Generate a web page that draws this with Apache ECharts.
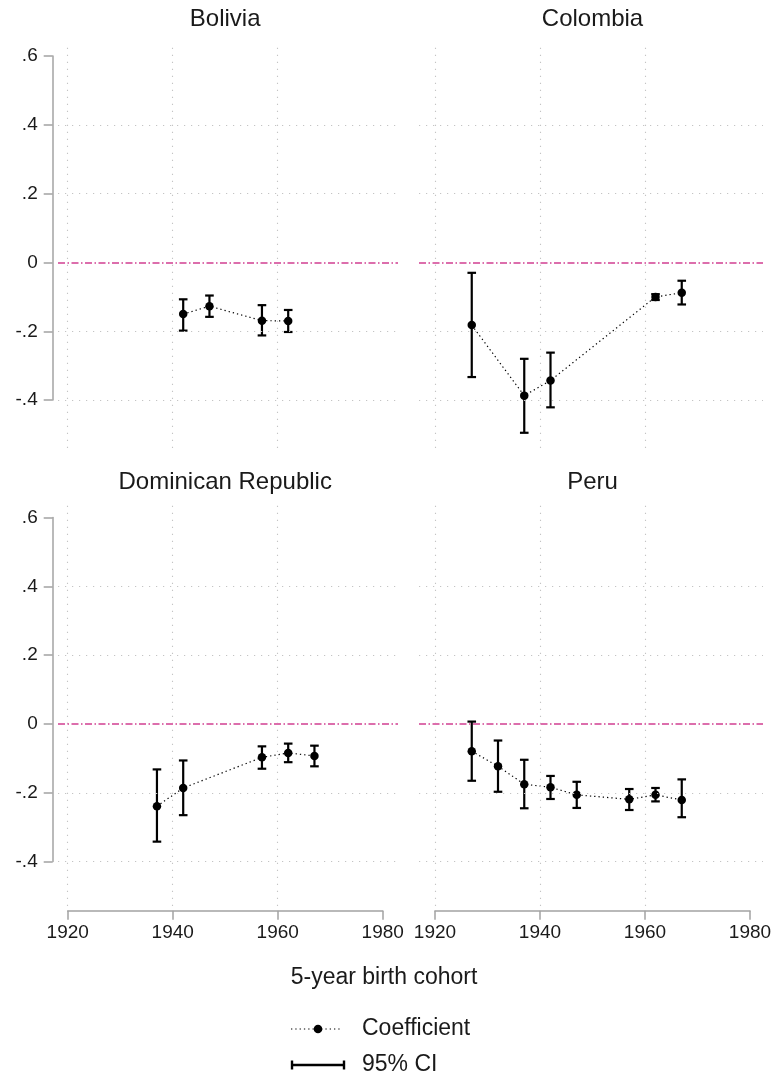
<!DOCTYPE html>
<html>
<head>
<meta charset="utf-8">
<script src="https://cdn.jsdelivr.net/npm/echarts@6/dist/echarts.min.js"></script>
<style>
  html, body { margin: 0; padding: 0; background: #ffffff; }
  #chart { width: 775px; height: 1076px; }
</style>
</head>
<body>
<div id="chart"></div>
<script>
// Coefficients with 95% confidence intervals by 5-year birth cohort
const countries = ['Bolivia', 'Colombia', 'Dominican Republic', 'Peru'];

const boliviaCohort = [1942, 1947, 1957, 1962];
const boliviaCoef   = [-0.150, -0.127, -0.169, -0.170];
const boliviaLow    = [-0.198, -0.158, -0.212, -0.202];
const boliviaHigh   = [-0.107, -0.096, -0.124, -0.138];

const colombiaCohort = [1927, 1937, 1942, 1962, 1967];
const colombiaCoef   = [-0.182, -0.387, -0.343, -0.100, -0.088];
const colombiaLow    = [-0.333, -0.495, -0.421, -0.109, -0.122];
const colombiaHigh   = [-0.030, -0.280, -0.262, -0.092, -0.053];

const dominicanCohort = [1937, 1942, 1957, 1962, 1967];
const dominicanCoef   = [-0.239, -0.186, -0.097, -0.084, -0.093];
const dominicanLow    = [-0.342, -0.265, -0.130, -0.111, -0.123];
const dominicanHigh   = [-0.132, -0.106, -0.065, -0.057, -0.063];

const peruCohort = [1927, 1932, 1937, 1942, 1947, 1957, 1962, 1967];
const peruCoef   = [-0.079, -0.123, -0.175, -0.184, -0.206, -0.219, -0.206, -0.221];
const peruLow    = [-0.165, -0.197, -0.245, -0.218, -0.244, -0.250, -0.225, -0.271];
const peruHigh   = [ 0.007, -0.048, -0.104, -0.151, -0.168, -0.189, -0.186, -0.161];

// Axis ticks and reference lines
const xTicks = [1920, 1940, 1960, 1980];
const yTicks = [-0.4, -0.2, 0, 0.2, 0.4, 0.6];
const yTickLabels = ['-.4', '-.2', '0', '.2', '.4', '.6'];
const xGridValues = [1920, 1940, 1960];
const yGridValues = [-0.4, -0.2, 0.2, 0.4];
const zeroLine = 0;

const xTitle = '5-year birth cohort';
const legendLabels = ['Coefficient', '95% CI'];

const panels = [
  { name: countries[0], cohort: boliviaCohort,   coef: boliviaCoef,   low: boliviaLow,   high: boliviaHigh,   col: 0, row: 0 },
  { name: countries[1], cohort: colombiaCohort,  coef: colombiaCoef,  low: colombiaLow,  high: colombiaHigh,  col: 1, row: 0 },
  { name: countries[2], cohort: dominicanCohort, coef: dominicanCoef, low: dominicanLow, high: dominicanHigh, col: 0, row: 1 },
  { name: countries[3], cohort: peruCohort,      coef: peruCoef,      low: peruLow,      high: peruHigh,      col: 1, row: 1 }
];

// Layout
const FONT = '"Liberation Sans", Arial, Helvetica, sans-serif';
const TEXT = '#1a1a1a';
const AXIS_GRAY = '#a3a3a3';
const GRID_GRAY = '#c4c4c4';
const PINK = '#dc6eac';
const PX_PER_YEAR = 5.25;
const PX_PER_UNIT = 344;
const colX1920 = [67.7, 435];         // pixel of 1920 in each column
const rowY0 = [262.5, 724];           // pixel of 0 in each row
const colBox = [[58, 398], [419, 763]];
const rowBox = [[43, 448], [505, 906]];
const yAxisLineX = 52.7;
const xAxisLineY = 910.7;

const grids = [], xAxes = [], yAxes = [], series = [], graphics = [];

panels.forEach((p, i) => {
  const c = p.col, r = p.row;
  const dataIdx = 2 * i, axisIdx = 2 * i + 1;

  // plot region (data, gridlines, reference line)
  grids.push({
    left: colBox[c][0], top: rowBox[r][0],
    width: colBox[c][1] - colBox[c][0], height: rowBox[r][1] - rowBox[r][0]
  });
  xAxes.push({
    gridIndex: dataIdx, type: 'value', show: false,
    min: 1920 - (colX1920[c] - colBox[c][0]) / PX_PER_YEAR,
    max: 1920 + (colBox[c][1] - colX1920[c]) / PX_PER_YEAR
  });
  yAxes.push({
    gridIndex: dataIdx, type: 'value', show: false,
    min: -(rowBox[r][1] - rowY0[r]) / PX_PER_UNIT,
    max: (rowY0[r] - rowBox[r][0]) / PX_PER_UNIT
  });

  // axis frame spanning the tick range only
  const tickTop = rowY0[r] - yTicks[yTicks.length - 1] * PX_PER_UNIT;
  const tickBottom = rowY0[r] - yTicks[0] * PX_PER_UNIT;
  grids.push({
    left: colX1920[c], top: tickTop,
    width: (xTicks[xTicks.length - 1] - xTicks[0]) * PX_PER_YEAR,
    height: tickBottom - tickTop
  });
  xAxes.push({
    gridIndex: axisIdx, type: 'value', position: 'bottom',
    show: r === 1,
    min: xTicks[0], max: xTicks[xTicks.length - 1], interval: 20,
    offset: xAxisLineY - tickBottom,
    axisLine: { show: true, onZero: false, lineStyle: { color: AXIS_GRAY, width: 1.5 } },
    axisTick: { show: true, length: 9, inside: false, lineStyle: { color: AXIS_GRAY, width: 1.5 } },
    axisLabel: { show: true, margin: 13, color: TEXT, fontFamily: FONT, fontSize: 19, formatter: v => String(v) },
    splitLine: { show: false }
  });
  yAxes.push({
    gridIndex: axisIdx, type: 'value', position: 'left',
    show: c === 0,
    min: yTicks[0], max: yTicks[yTicks.length - 1], interval: 0.2,
    offset: colX1920[c] - yAxisLineX,
    axisLine: { show: true, onZero: false, lineStyle: { color: AXIS_GRAY, width: 1.5 } },
    axisTick: { show: true, length: 9, inside: false, lineStyle: { color: AXIS_GRAY, width: 1.5 } },
    axisLabel: {
      show: true, margin: 15, color: TEXT, fontFamily: FONT, fontSize: 19,
      formatter: v => {
        const k = yTicks.findIndex(t => Math.abs(t - v) < 1e-9);
        return k >= 0 ? yTickLabels[k] : '';
      }
    },
    splitLine: { show: false }
  });

  // gridlines and the zero reference line
  const gridStyle = { color: GRID_GRAY, width: 1.1, type: [1.2, 5.8] };
  const markData = [];
  xGridValues.forEach(v => markData.push({ xAxis: v, lineStyle: gridStyle }));
  yGridValues.forEach(v => markData.push({ yAxis: v, lineStyle: gridStyle }));
  markData.push({ yAxis: zeroLine, lineStyle: { color: PINK, width: 1.8, type: [7, 2.5, 1.5, 2.5] } });
  series.push({
    type: 'scatter', xAxisIndex: dataIdx, yAxisIndex: dataIdx, data: [], silent: true, z: 1,
    markLine: { silent: true, symbol: ['none', 'none'], label: { show: false }, animation: false, data: markData }
  });

  // 95% confidence intervals
  series.push({
    type: 'custom', name: legendLabels[1], xAxisIndex: dataIdx, yAxisIndex: dataIdx, z: 3,
    data: p.cohort.map((x, k) => [x, p.low[k], p.high[k]]),
    encode: { x: 0, y: [1, 2] },
    renderItem: (params, api) => {
      const x = api.value(0);
      const lo = api.coord([x, api.value(1)]);
      const hi = api.coord([x, api.value(2)]);
      const hw = 4.3;
      const style = { stroke: '#000', lineWidth: 2.2, fill: null };
      return {
        type: 'group',
        children: [
          { type: 'line', shape: { x1: lo[0], y1: lo[1], x2: hi[0], y2: hi[1] }, style },
          { type: 'line', shape: { x1: lo[0] - hw, y1: lo[1], x2: lo[0] + hw, y2: lo[1] }, style },
          { type: 'line', shape: { x1: hi[0] - hw, y1: hi[1], x2: hi[0] + hw, y2: hi[1] }, style }
        ]
      };
    }
  });

  // point estimates joined by a dotted line
  series.push({
    type: 'line', name: legendLabels[0], xAxisIndex: dataIdx, yAxisIndex: dataIdx, z: 4,
    data: p.cohort.map((x, k) => [x, p.coef[k]]),
    symbol: 'circle', symbolSize: 8.5, showSymbol: true,
    itemStyle: { color: '#000' },
    lineStyle: { color: '#000', width: 1.2, type: [1.3, 3] }
  });

  // panel title, centred over the tick range
  graphics.push({
    type: 'text', x: colX1920[c] + 30 * PX_PER_YEAR, y: r === 0 ? 19 : 482.5,
    style: { text: p.name, font: '24px ' + FONT, fill: TEXT, textAlign: 'center', textVerticalAlign: 'middle' }
  });
});

// shared x-axis title
graphics.push({
  type: 'text', x: 384, y: 978,
  style: { text: xTitle, font: '23px ' + FONT, fill: TEXT, textAlign: 'center', textVerticalAlign: 'middle' }
});

// legend
graphics.push(
  { type: 'line', shape: { x1: 291, y1: 1029, x2: 340, y2: 1029 }, style: { stroke: '#000', lineWidth: 1.2, lineDash: [1.3, 3] } },
  { type: 'circle', shape: { cx: 318, cy: 1029, r: 4.3 }, style: { fill: '#000' } },
  { type: 'text', x: 362, y: 1029, style: { text: legendLabels[0], font: '23px ' + FONT, fill: TEXT, textAlign: 'left', textVerticalAlign: 'middle' } },
  { type: 'line', shape: { x1: 292, y1: 1065, x2: 344, y2: 1065 }, style: { stroke: '#000', lineWidth: 2.4 } },
  { type: 'line', shape: { x1: 292, y1: 1060.5, x2: 292, y2: 1069.5 }, style: { stroke: '#000', lineWidth: 2.4 } },
  { type: 'line', shape: { x1: 344, y1: 1060.5, x2: 344, y2: 1069.5 }, style: { stroke: '#000', lineWidth: 2.4 } },
  { type: 'text', x: 362, y: 1065, style: { text: legendLabels[1], font: '23px ' + FONT, fill: TEXT, textAlign: 'left', textVerticalAlign: 'middle' } }
);

const chart = echarts.init(document.getElementById('chart'), null, { renderer: 'canvas' });
chart.setOption({
  backgroundColor: '#ffffff',
  animation: false,
  grid: grids,
  xAxis: xAxes,
  yAxis: yAxes,
  series: series,
  graphic: graphics
});
</script>
</body>
</html>
